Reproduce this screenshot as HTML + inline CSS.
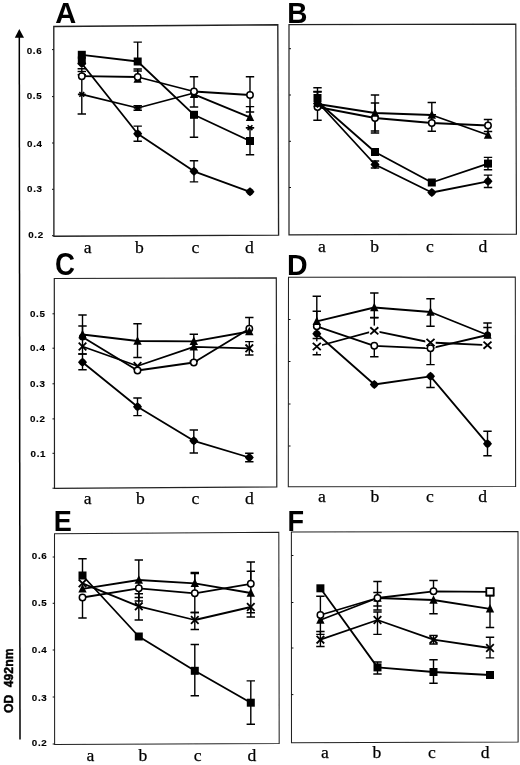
<!DOCTYPE html>
<html><head><meta charset="utf-8"><title>Figure</title>
<style>
html,body{margin:0;padding:0;background:#fff;}
body{width:520px;height:765px;overflow:hidden;font-family:"Liberation Sans",sans-serif;}
svg{display:block;}
.yl{font-family:"Liberation Sans",sans-serif;font-weight:bold;font-size:9.8px;letter-spacing:0.65px;fill:#000;stroke:#000;stroke-width:0.15px;}
.xl{font-family:"Liberation Serif",serif;font-size:17.6px;text-anchor:middle;fill:#000;stroke:#000;stroke-width:0.25px;}
.pl{font-family:"Liberation Sans",sans-serif;font-weight:bold;font-size:28.5px;fill:#000;}
.od{font-family:"Liberation Sans",sans-serif;font-weight:bold;font-size:13.6px;word-spacing:4.6px;fill:#000;text-anchor:middle;stroke:#000;stroke-width:0.5px;}
</style></head><body>
<svg width="520" height="765" viewBox="0 0 520 765">
<defs><filter id="bl" x="0" y="0" width="520" height="765" filterUnits="userSpaceOnUse"><feGaussianBlur stdDeviation="0.4"/></filter></defs>
<rect width="520" height="765" fill="#fff"/>
<g filter="url(#bl)">
<path d="M19.3 37L20 739.4" stroke="#000" stroke-width="1.5" fill="none"/>
<path d="M19.3 29L24 37.8L14.8 37.8Z" fill="#000"/>
<text class="od" transform="translate(12.6 680.8) rotate(-90) scale(0.9 1)">OD 492nm</text>
<path d="M53.8 26.5L277.8 24.8L278.6 235.2L53.9 236.2Z" fill="none" stroke="#222" stroke-width="1.35"/>
<path d="M52.0 49.6L53.8 49.6" stroke="#111" stroke-width="1"/>
<path d="M52.0 96.6L53.8 96.6" stroke="#111" stroke-width="1"/>
<path d="M52.0 143L53.8 143" stroke="#111" stroke-width="1"/>
<path d="M52.0 189.3L53.8 189.3" stroke="#111" stroke-width="1"/>
<path d="M52.0 235.7L53.8 235.7" stroke="#111" stroke-width="1"/>
<text x="26.7" y="53.8" class="yl">0.6</text>
<text x="26.7" y="98.8" class="yl">0.5</text>
<text x="27.1" y="146.6" class="yl">0.4</text>
<text x="27.1" y="192.4" class="yl">0.3</text>
<text x="28.2" y="238.2" class="yl">0.2</text>
<path d="M81.8 94.4L137.7 108.0L194.0 93.0" stroke="#000" stroke-width="1.8" fill="none" stroke-linejoin="round"/>
<path d="M194.0 94.3L250.0 117.3" stroke="#000" stroke-width="1.8" fill="none" stroke-linejoin="round"/>
<path d="M81.8 63.5L137.7 133.7L194.0 171.3L250.0 191.8" stroke="#000" stroke-width="1.8" fill="none" stroke-linejoin="round"/>
<path d="M81.8 76.2L137.7 77.0L194.0 91.5L250.0 95.0" stroke="#000" stroke-width="1.8" fill="none" stroke-linejoin="round"/>
<path d="M81.8 54.8L137.7 61.5L194.0 114.8L250.0 141.0" stroke="#000" stroke-width="1.8" fill="none" stroke-linejoin="round"/>
<path d="M81.8 74.8L81.8 114.0M77.6 74.8L86.0 74.8M77.6 114.0L86.0 114.0" stroke="#000" stroke-width="1.4" fill="none"/>
<path d="M137.7 105.8L137.7 110.2M133.5 105.8L141.9 105.8M133.5 110.2L141.9 110.2" stroke="#000" stroke-width="1.4" fill="none"/>
<path d="M137.7 69.0L137.7 79.0M133.5 69.0L141.9 69.0" stroke="#000" stroke-width="1.4" fill="none"/>
<path d="M250.0 106.6L250.0 117.3M245.8 106.6L254.2 106.6" stroke="#000" stroke-width="1.4" fill="none"/>
<path d="M137.7 126.1L137.7 141.3M133.5 126.1L141.9 126.1M133.5 141.3L141.9 141.3" stroke="#000" stroke-width="1.4" fill="none"/>
<path d="M194.0 160.7L194.0 181.9M189.8 160.7L198.2 160.7M189.8 181.9L198.2 181.9" stroke="#000" stroke-width="1.4" fill="none"/>
<path d="M81.8 68.8L81.8 76.2M77.6 68.8L86.0 68.8" stroke="#000" stroke-width="1.4" fill="none"/>
<path d="M137.7 71.0L137.7 77.0M133.5 71.0L141.9 71.0" stroke="#000" stroke-width="1.4" fill="none"/>
<path d="M194.0 76.8L194.0 107.0M189.8 76.8L198.2 76.8M189.8 107.0L198.2 107.0" stroke="#000" stroke-width="1.4" fill="none"/>
<path d="M250.0 76.8L250.0 112.0M245.8 76.8L254.2 76.8M245.8 112.0L254.2 112.0" stroke="#000" stroke-width="1.4" fill="none"/>
<path d="M137.7 42.1L137.7 61.5M133.5 42.1L141.9 42.1" stroke="#000" stroke-width="1.4" fill="none"/>
<path d="M194.0 114.8L194.0 137.3M189.8 137.3L198.2 137.3" stroke="#000" stroke-width="1.4" fill="none"/>
<path d="M250.0 127.7L250.0 154.7M245.8 127.7L254.2 127.7M245.8 154.7L254.2 154.7" stroke="#000" stroke-width="1.4" fill="none"/>
<path d="M79.4 92.0L84.2 96.8M79.4 96.8L84.2 92.0M77.9 94.4L85.7 94.4" stroke="#000" stroke-width="1.6" fill="none"/>
<path d="M135.3 105.6L140.1 110.4M135.3 110.4L140.1 105.6M133.8 108.0L141.6 108.0" stroke="#000" stroke-width="1.6" fill="none"/>
<path d="M191.6 90.6L196.4 95.4M191.6 95.4L196.4 90.6M190.1 93.0L197.9 93.0" stroke="#000" stroke-width="1.6" fill="none"/>
<path d="M247.6 125.3L252.4 130.1M247.6 130.1L252.4 125.3M246.1 127.7L253.9 127.7" stroke="#000" stroke-width="1.6" fill="none"/>
<rect x="77.8" y="56.5" width="8.0" height="8.0" fill="#000"/>
<path d="M137.7 74.3L141.9 82.7L133.5 82.7Z" fill="#000"/>
<path d="M194.0 89.6L198.2 98.0L189.8 98.0Z" fill="#000"/>
<path d="M250.0 112.6L254.2 121.0L245.8 121.0Z" fill="#000"/>
<path d="M81.8 59.0L84.3 61.0L86.3 63.5L84.3 66.0L81.8 68.0L79.3 66.0L77.3 63.5L79.3 61.0Z" fill="#000"/>
<path d="M137.7 129.2L140.2 131.2L142.2 133.7L140.2 136.2L137.7 138.2L135.2 136.2L133.2 133.7L135.2 131.2Z" fill="#000"/>
<path d="M194.0 166.8L196.5 168.8L198.5 171.3L196.5 173.8L194.0 175.8L191.5 173.8L189.5 171.3L191.5 168.8Z" fill="#000"/>
<path d="M250.0 187.3L252.5 189.3L254.5 191.8L252.5 194.3L250.0 196.3L247.5 194.3L245.5 191.8L247.5 189.3Z" fill="#000"/>
<circle cx="81.8" cy="76.2" r="3.2" fill="#fff" stroke="#000" stroke-width="1.5"/>
<circle cx="137.7" cy="77.0" r="3.2" fill="#fff" stroke="#000" stroke-width="1.5"/>
<circle cx="194.0" cy="91.5" r="3.2" fill="#fff" stroke="#000" stroke-width="1.5"/>
<circle cx="250.0" cy="95.0" r="3.2" fill="#fff" stroke="#000" stroke-width="1.5"/>
<rect x="77.8" y="50.8" width="8.0" height="8.0" fill="#000"/>
<rect x="133.7" y="57.5" width="8.0" height="8.0" fill="#000"/>
<rect x="190.0" y="110.8" width="8.0" height="8.0" fill="#000"/>
<rect x="246.0" y="137.0" width="8.0" height="8.0" fill="#000"/>
<path d="M77.6 71.5L86.0 71.5" stroke="#000" stroke-width="1.4" fill="none"/>
<text x="87.7" y="252.7" class="xl">a</text>
<text x="139.5" y="252.7" class="xl">b</text>
<text x="195.5" y="252.7" class="xl">c</text>
<text x="249.3" y="252.7" class="xl">d</text>
<text transform="translate(55.3 22.7) scale(1.02 1.05)" class="pl">A</text>
<path d="M289 24.6L515.8 24.2L516.4 234.2L289 234.8Z" fill="none" stroke="#222" stroke-width="1.2"/>
<path d="M289 48.7L291 48.7" stroke="#111" stroke-width="1"/>
<path d="M289 95L291 95" stroke="#111" stroke-width="1"/>
<path d="M289 141.3L291 141.3" stroke="#111" stroke-width="1"/>
<path d="M289 187.5L291 187.5" stroke="#111" stroke-width="1"/>
<path d="M317.5 107.0L375.0 118.0L431.8 123.0L488.0 125.5" stroke="#000" stroke-width="1.8" fill="none" stroke-linejoin="round"/>
<path d="M317.5 104.0L375.0 113.0L431.8 115.0L488.0 135.0" stroke="#000" stroke-width="1.8" fill="none" stroke-linejoin="round"/>
<path d="M317.5 102.0L375.0 164.5L431.8 192.5L488.0 181.3" stroke="#000" stroke-width="1.8" fill="none" stroke-linejoin="round"/>
<path d="M317.5 101.5L375.0 152.0L431.8 182.5L488.0 163.6" stroke="#000" stroke-width="1.8" fill="none" stroke-linejoin="round"/>
<path d="M317.5 92.0L317.5 120.2M313.3 92.0L321.7 92.0M313.3 120.2L321.7 120.2" stroke="#000" stroke-width="1.4" fill="none"/>
<path d="M375.0 103.0L375.0 133.0M370.8 103.0L379.2 103.0M370.8 133.0L379.2 133.0" stroke="#000" stroke-width="1.4" fill="none"/>
<path d="M431.8 114.7L431.8 131.3M427.6 114.7L436.0 114.7M427.6 131.3L436.0 131.3" stroke="#000" stroke-width="1.4" fill="none"/>
<path d="M488.0 119.5L488.0 131.5M483.8 119.5L492.2 119.5M483.8 131.5L492.2 131.5" stroke="#000" stroke-width="1.4" fill="none"/>
<path d="M317.5 87.7L317.5 103.0M313.3 87.7L321.7 87.7" stroke="#000" stroke-width="1.4" fill="none"/>
<path d="M375.0 95.0L375.0 131.0M370.8 95.0L379.2 95.0M370.8 131.0L379.2 131.0" stroke="#000" stroke-width="1.4" fill="none"/>
<path d="M431.8 102.5L431.8 115.0M427.6 102.5L436.0 102.5" stroke="#000" stroke-width="1.4" fill="none"/>
<path d="M375.0 161.0L375.0 168.0M370.8 161.0L379.2 161.0M370.8 168.0L379.2 168.0" stroke="#000" stroke-width="1.4" fill="none"/>
<path d="M488.0 175.1L488.0 187.5M483.8 175.1L492.2 175.1M483.8 187.5L492.2 187.5" stroke="#000" stroke-width="1.4" fill="none"/>
<path d="M317.5 91.5L317.5 98.0M313.3 91.5L321.7 91.5" stroke="#000" stroke-width="1.4" fill="none"/>
<path d="M488.0 157.4L488.0 169.8M483.8 157.4L492.2 157.4M483.8 169.8L492.2 169.8" stroke="#000" stroke-width="1.4" fill="none"/>
<circle cx="317.5" cy="107.0" r="3.2" fill="#fff" stroke="#000" stroke-width="1.5"/>
<circle cx="375.0" cy="118.0" r="3.2" fill="#fff" stroke="#000" stroke-width="1.5"/>
<circle cx="431.8" cy="123.0" r="3.2" fill="#fff" stroke="#000" stroke-width="1.5"/>
<circle cx="488.0" cy="125.5" r="3.2" fill="#fff" stroke="#000" stroke-width="1.5"/>
<path d="M317.5 98.3L321.7 106.7L313.3 106.7Z" fill="#000"/>
<path d="M375.0 108.3L379.2 116.7L370.8 116.7Z" fill="#000"/>
<path d="M431.8 110.3L436.0 118.7L427.6 118.7Z" fill="#000"/>
<path d="M488.0 130.3L492.2 138.7L483.8 138.7Z" fill="#000"/>
<path d="M317.5 99.1L320.0 101.1L322.0 103.6L320.0 106.1L317.5 108.1L315.0 106.1L313.0 103.6L315.0 101.1Z" fill="#000"/>
<path d="M375.0 160.0L377.5 162.0L379.5 164.5L377.5 167.0L375.0 169.0L372.5 167.0L370.5 164.5L372.5 162.0Z" fill="#000"/>
<path d="M431.8 188.0L434.3 190.0L436.3 192.5L434.3 195.0L431.8 197.0L429.3 195.0L427.3 192.5L429.3 190.0Z" fill="#000"/>
<path d="M488.0 176.8L490.5 178.8L492.5 181.3L490.5 183.8L488.0 185.8L485.5 183.8L483.5 181.3L485.5 178.8Z" fill="#000"/>
<rect x="313.5" y="94.0" width="8.0" height="8.0" fill="#000"/>
<rect x="371.0" y="148.0" width="8.0" height="8.0" fill="#000"/>
<rect x="427.8" y="178.5" width="8.0" height="8.0" fill="#000"/>
<rect x="484.0" y="159.6" width="8.0" height="8.0" fill="#000"/>
<text x="321.8" y="251.6" class="xl">a</text>
<text x="374.7" y="251.6" class="xl">b</text>
<text x="430" y="251.6" class="xl">c</text>
<text x="483" y="251.6" class="xl">d</text>
<text transform="translate(287.2 22.5) scale(0.98 1.05)" class="pl">B</text>
<path d="M54.3 278.5L276.3 277.9L276.8 486.9L54.5 488.3Z" fill="none" stroke="#222" stroke-width="1.2"/>
<path d="M52.5 313.8L54.3 313.8" stroke="#111" stroke-width="1"/>
<path d="M52.5 348.2L54.3 348.2" stroke="#111" stroke-width="1"/>
<path d="M52.5 383.8L54.3 383.8" stroke="#111" stroke-width="1"/>
<path d="M52.5 418.9L54.3 418.9" stroke="#111" stroke-width="1"/>
<path d="M52.5 453.3L54.3 453.3" stroke="#111" stroke-width="1"/>
<path d="M52.5 488.2L54.3 488.2" stroke="#111" stroke-width="1"/>
<text x="30.0" y="317.4" class="yl">0.5</text>
<text x="30.0" y="351.4" class="yl">0.4</text>
<text x="30.0" y="386.6" class="yl">0.3</text>
<text x="30.0" y="421.9" class="yl">0.2</text>
<text x="30.6" y="456.9" class="yl">0.1</text>
<path d="M82.5 346.5L137.5 366.0L193.8 346.8L249.3 348.3" stroke="#000" stroke-width="1.8" fill="none" stroke-linejoin="round"/>
<path d="M82.5 337.0L137.5 370.5L193.8 362.5L249.3 328.7" stroke="#000" stroke-width="1.8" fill="none" stroke-linejoin="round"/>
<path d="M82.5 334.5L137.5 341.0L193.8 341.3L249.3 331.5" stroke="#000" stroke-width="1.8" fill="none" stroke-linejoin="round"/>
<path d="M82.5 362.3L137.5 406.8L193.8 440.8L249.3 457.5" stroke="#000" stroke-width="1.8" fill="none" stroke-linejoin="round"/>
<path d="M249.3 341.6L249.3 355.0M245.1 341.6L253.5 341.6M245.1 355.0L253.5 355.0" stroke="#000" stroke-width="1.4" fill="none"/>
<path d="M82.5 326.0L82.5 354.0M78.3 326.0L86.7 326.0M78.3 354.0L86.7 354.0" stroke="#000" stroke-width="1.4" fill="none"/>
<path d="M82.5 315.0L82.5 334.5M78.3 315.0L86.7 315.0" stroke="#000" stroke-width="1.4" fill="none"/>
<path d="M137.5 323.8L137.5 357.5M133.3 323.8L141.7 323.8M133.3 357.5L141.7 357.5" stroke="#000" stroke-width="1.4" fill="none"/>
<path d="M193.8 334.3L193.8 361.3M189.6 334.3L198.0 334.3M189.6 361.3L198.0 361.3" stroke="#000" stroke-width="1.4" fill="none"/>
<path d="M249.3 317.5L249.3 331.5M245.1 317.5L253.5 317.5" stroke="#000" stroke-width="1.4" fill="none"/>
<path d="M82.5 354.0L82.5 369.8M78.3 354.0L86.7 354.0M78.3 369.8L86.7 369.8" stroke="#000" stroke-width="1.4" fill="none"/>
<path d="M137.5 398.0L137.5 415.6M133.3 398.0L141.7 398.0M133.3 415.6L141.7 415.6" stroke="#000" stroke-width="1.4" fill="none"/>
<path d="M193.8 430.0L193.8 453.0M189.6 430.0L198.0 430.0M189.6 453.0L198.0 453.0" stroke="#000" stroke-width="1.4" fill="none"/>
<path d="M249.3 453.3L249.3 461.7M245.1 453.3L253.5 453.3M245.1 461.7L253.5 461.7" stroke="#000" stroke-width="1.4" fill="none"/>
<path d="M78.7 342.7L86.3 350.3M78.7 350.3L86.3 342.7" stroke="#000" stroke-width="1.8" fill="none"/>
<path d="M133.7 362.2L141.3 369.8M133.7 369.8L141.3 362.2" stroke="#000" stroke-width="1.8" fill="none"/>
<path d="M193.8 342.1L198.0 350.5L189.6 350.5Z" fill="#000"/>
<path d="M245.5 344.5L253.1 352.1M245.5 352.1L253.1 344.5" stroke="#000" stroke-width="1.8" fill="none"/>
<circle cx="82.5" cy="337.0" r="3.6" fill="#000"/>
<circle cx="137.5" cy="370.5" r="3.2" fill="#fff" stroke="#000" stroke-width="1.5"/>
<circle cx="193.8" cy="362.5" r="3.2" fill="#fff" stroke="#000" stroke-width="1.5"/>
<circle cx="249.3" cy="328.7" r="3.2" fill="#fff" stroke="#000" stroke-width="1.5"/>
<path d="M82.5 329.8L86.7 338.2L78.3 338.2Z" fill="#000"/>
<path d="M137.5 336.3L141.7 344.7L133.3 344.7Z" fill="#000"/>
<path d="M193.8 336.6L198.0 345.0L189.6 345.0Z" fill="#000"/>
<path d="M249.3 326.8L253.5 335.2L245.1 335.2Z" fill="#000"/>
<path d="M82.5 357.8L85.0 359.8L87.0 362.3L85.0 364.8L82.5 366.8L80.0 364.8L78.0 362.3L80.0 359.8Z" fill="#000"/>
<path d="M137.5 402.3L140.0 404.3L142.0 406.8L140.0 409.3L137.5 411.3L135.0 409.3L133.0 406.8L135.0 404.3Z" fill="#000"/>
<path d="M193.8 436.3L196.3 438.3L198.3 440.8L196.3 443.3L193.8 445.3L191.3 443.3L189.3 440.8L191.3 438.3Z" fill="#000"/>
<path d="M249.3 453.0L251.8 455.0L253.8 457.5L251.8 460.0L249.3 462.0L246.8 460.0L244.8 457.5L246.8 455.0Z" fill="#000"/>
<text x="87.6" y="504.1" class="xl">a</text>
<text x="140.4" y="504.1" class="xl">b</text>
<text x="195.3" y="504.1" class="xl">c</text>
<text x="249.3" y="504.1" class="xl">d</text>
<text transform="translate(55.0 274.8) scale(0.97 1.07)" class="pl">C</text>
<path d="M288.5 277.3L515.3 277L515.6 486.5L288.3 486.7Z" fill="none" stroke="#222" stroke-width="1.05"/>
<path d="M288.5 319.5L290.5 319.5" stroke="#111" stroke-width="1"/>
<path d="M288.5 361.5L290.5 361.5" stroke="#111" stroke-width="1"/>
<path d="M288.5 404L290.5 404" stroke="#111" stroke-width="1"/>
<path d="M288.5 446L290.5 446" stroke="#111" stroke-width="1"/>
<path d="M316.8 346.5L374.3 330.8L430.5 342.5L487.5 345.2" stroke="#000" stroke-width="1.8" fill="none" stroke-linejoin="round"/>
<path d="M316.8 326.3L374.3 345.8L430.5 348.3L487.5 335.0" stroke="#000" stroke-width="1.8" fill="none" stroke-linejoin="round"/>
<path d="M316.8 321.3L374.3 307.5L430.5 312.0L487.5 335.0" stroke="#000" stroke-width="1.8" fill="none" stroke-linejoin="round"/>
<path d="M316.8 333.8L374.3 384.5L430.5 376.3L487.5 443.8" stroke="#000" stroke-width="1.8" fill="none" stroke-linejoin="round"/>
<path d="M316.8 338.5L316.8 354.8M312.6 338.5L321.0 338.5M312.6 354.8L321.0 354.8" stroke="#000" stroke-width="1.4" fill="none"/>
<path d="M374.3 317.8L374.3 330.8M370.1 317.8L378.5 317.8" stroke="#000" stroke-width="1.4" fill="none"/>
<path d="M316.8 311.3L316.8 326.3M312.6 311.3L321.0 311.3" stroke="#000" stroke-width="1.4" fill="none"/>
<path d="M374.3 345.8L374.3 356.8M370.1 356.8L378.5 356.8" stroke="#000" stroke-width="1.4" fill="none"/>
<path d="M430.5 348.3L430.5 364.6M426.3 364.6L434.7 364.6" stroke="#000" stroke-width="1.4" fill="none"/>
<path d="M487.5 327.5L487.5 335.0M483.3 327.5L491.7 327.5" stroke="#000" stroke-width="1.4" fill="none"/>
<path d="M316.8 296.3L316.8 321.3M312.6 296.3L321.0 296.3" stroke="#000" stroke-width="1.4" fill="none"/>
<path d="M374.3 293.0L374.3 317.5M370.1 293.0L378.5 293.0M370.1 317.5L378.5 317.5" stroke="#000" stroke-width="1.4" fill="none"/>
<path d="M430.5 298.8L430.5 326.3M426.3 298.8L434.7 298.8M426.3 326.3L434.7 326.3" stroke="#000" stroke-width="1.4" fill="none"/>
<path d="M487.5 323.0L487.5 335.0M483.3 323.0L491.7 323.0" stroke="#000" stroke-width="1.4" fill="none"/>
<path d="M430.5 376.3L430.5 387.5M426.3 387.5L434.7 387.5" stroke="#000" stroke-width="1.4" fill="none"/>
<path d="M487.5 431.3L487.5 455.8M483.3 431.3L491.7 431.3M483.3 455.8L491.7 455.8" stroke="#000" stroke-width="1.4" fill="none"/>
<rect x="311.6" y="341.3" width="10.4" height="10.4" fill="#fff"/><path d="M312.8 342.9L320.8 350.1M312.8 350.1L320.8 342.9" stroke="#000" stroke-width="1.9" fill="none"/>
<rect x="369.1" y="325.6" width="10.4" height="10.4" fill="#fff"/><path d="M370.3 327.2L378.3 334.4M370.3 334.4L378.3 327.2" stroke="#000" stroke-width="1.9" fill="none"/>
<rect x="425.3" y="337.3" width="10.4" height="10.4" fill="#fff"/><path d="M426.5 338.9L434.5 346.1M426.5 346.1L434.5 338.9" stroke="#000" stroke-width="1.9" fill="none"/>
<rect x="482.3" y="340.0" width="10.4" height="10.4" fill="#fff"/><path d="M483.5 341.6L491.5 348.8M483.5 348.8L491.5 341.6" stroke="#000" stroke-width="1.9" fill="none"/>
<circle cx="316.8" cy="326.3" r="3.2" fill="#fff" stroke="#000" stroke-width="1.5"/>
<circle cx="374.3" cy="345.8" r="3.2" fill="#fff" stroke="#000" stroke-width="1.5"/>
<circle cx="430.5" cy="348.3" r="3.2" fill="#fff" stroke="#000" stroke-width="1.5"/>
<circle cx="487.5" cy="335.0" r="3.6" fill="#000"/>
<path d="M316.8 316.6L321.0 325.0L312.6 325.0Z" fill="#000"/>
<path d="M374.3 302.8L378.5 311.2L370.1 311.2Z" fill="#000"/>
<path d="M430.5 307.3L434.7 315.7L426.3 315.7Z" fill="#000"/>
<path d="M487.5 330.3L491.7 338.7L483.3 338.7Z" fill="#000"/>
<path d="M316.8 329.3L319.3 331.3L321.3 333.8L319.3 336.3L316.8 338.3L314.3 336.3L312.3 333.8L314.3 331.3Z" fill="#000"/>
<path d="M374.3 380.0L376.8 382.0L378.8 384.5L376.8 387.0L374.3 389.0L371.8 387.0L369.8 384.5L371.8 382.0Z" fill="#000"/>
<path d="M430.5 371.8L433.0 373.8L435.0 376.3L433.0 378.8L430.5 380.8L428.0 378.8L426.0 376.3L428.0 373.8Z" fill="#000"/>
<path d="M487.5 439.3L490.0 441.3L492.0 443.8L490.0 446.3L487.5 448.3L485.0 446.3L483.0 443.8L485.0 441.3Z" fill="#000"/>
<text x="322" y="502" class="xl">a</text>
<text x="375" y="502" class="xl">b</text>
<text x="430" y="502" class="xl">c</text>
<text x="482.7" y="502" class="xl">d</text>
<text transform="translate(286.9 274.7) scale(1.0 1.05)" class="pl">D</text>
<path d="M54.5 533.8L278.8 532.3L279.2 743.5L54.6 744.4Z" fill="none" stroke="#222" stroke-width="1.05"/>
<path d="M52.7 557L54.5 557" stroke="#111" stroke-width="1"/>
<path d="M52.7 603.3L54.5 603.3" stroke="#111" stroke-width="1"/>
<path d="M52.7 650L54.5 650" stroke="#111" stroke-width="1"/>
<path d="M52.7 697L54.5 697" stroke="#111" stroke-width="1"/>
<path d="M52.7 744L54.5 744" stroke="#111" stroke-width="1"/>
<text x="31.8" y="559.3" class="yl">0.6</text>
<text x="31.8" y="606.3" class="yl">0.5</text>
<text x="31.8" y="652.8" class="yl">0.4</text>
<text x="31.8" y="701.0" class="yl">0.3</text>
<text x="31.8" y="745.8" class="yl">0.2</text>
<path d="M82.5 583.3L138.8 606.3L194.8 620.0L250.8 607.0" stroke="#000" stroke-width="1.8" fill="none" stroke-linejoin="round"/>
<path d="M82.5 588.8L138.8 580.0L194.8 583.3L250.8 593.0" stroke="#000" stroke-width="1.8" fill="none" stroke-linejoin="round"/>
<path d="M82.5 597.5L138.8 588.3L194.8 593.3L250.8 583.8" stroke="#000" stroke-width="1.8" fill="none" stroke-linejoin="round"/>
<path d="M82.5 575.5L138.8 636.5L194.8 670.8L250.8 702.7" stroke="#000" stroke-width="1.8" fill="none" stroke-linejoin="round"/>
<path d="M138.8 593.8L138.8 620.0M134.6 593.8L143.0 593.8M134.6 620.0L143.0 620.0" stroke="#000" stroke-width="1.4" fill="none"/>
<path d="M194.8 612.5L194.8 629.5M190.6 612.5L199.0 612.5M190.6 629.5L199.0 629.5" stroke="#000" stroke-width="1.4" fill="none"/>
<path d="M250.8 607.0L250.8 617.0M246.6 617.0L255.0 617.0" stroke="#000" stroke-width="1.4" fill="none"/>
<path d="M138.8 560.0L138.8 597.5M134.6 560.0L143.0 560.0M134.6 597.5L143.0 597.5" stroke="#000" stroke-width="1.4" fill="none"/>
<path d="M194.8 572.5L194.8 583.3M190.6 572.5L199.0 572.5" stroke="#000" stroke-width="1.4" fill="none"/>
<path d="M250.8 571.3L250.8 612.7M246.6 571.3L255.0 571.3M246.6 612.7L255.0 612.7" stroke="#000" stroke-width="1.4" fill="none"/>
<path d="M82.5 597.5L82.5 618.0M78.3 618.0L86.7 618.0" stroke="#000" stroke-width="1.4" fill="none"/>
<path d="M138.8 588.3L138.8 601.0M134.6 601.0L143.0 601.0" stroke="#000" stroke-width="1.4" fill="none"/>
<path d="M194.8 573.5L194.8 612.5M190.6 573.5L199.0 573.5M190.6 612.5L199.0 612.5" stroke="#000" stroke-width="1.4" fill="none"/>
<path d="M250.8 562.0L250.8 583.8M246.6 562.0L255.0 562.0" stroke="#000" stroke-width="1.4" fill="none"/>
<path d="M82.5 558.8L82.5 575.5M78.3 558.8L86.7 558.8" stroke="#000" stroke-width="1.4" fill="none"/>
<path d="M194.8 644.5L194.8 695.8M190.6 644.5L199.0 644.5M190.6 695.8L199.0 695.8" stroke="#000" stroke-width="1.4" fill="none"/>
<path d="M250.8 680.9L250.8 724.2M246.6 680.9L255.0 680.9M246.6 724.2L255.0 724.2" stroke="#000" stroke-width="1.4" fill="none"/>
<path d="M78.7 579.5L86.3 587.1M78.7 587.1L86.3 579.5" stroke="#000" stroke-width="1.8" fill="none"/>
<path d="M135.0 602.5L142.6 610.1M135.0 610.1L142.6 602.5" stroke="#000" stroke-width="1.8" fill="none"/>
<path d="M191.0 616.2L198.6 623.8M191.0 623.8L198.6 616.2" stroke="#000" stroke-width="1.8" fill="none"/>
<path d="M247.0 603.2L254.6 610.8M247.0 610.8L254.6 603.2" stroke="#000" stroke-width="1.8" fill="none"/>
<path d="M82.5 584.1L86.7 592.5L78.3 592.5Z" fill="#000"/>
<path d="M138.8 575.3L143.0 583.7L134.6 583.7Z" fill="#000"/>
<path d="M194.8 578.6L199.0 587.0L190.6 587.0Z" fill="#000"/>
<path d="M250.8 588.3L255.0 596.7L246.6 596.7Z" fill="#000"/>
<circle cx="82.5" cy="597.5" r="3.2" fill="#fff" stroke="#000" stroke-width="1.5"/>
<circle cx="138.8" cy="588.3" r="3.2" fill="#fff" stroke="#000" stroke-width="1.5"/>
<circle cx="194.8" cy="593.3" r="3.2" fill="#fff" stroke="#000" stroke-width="1.5"/>
<circle cx="250.8" cy="583.8" r="3.2" fill="#fff" stroke="#000" stroke-width="1.5"/>
<rect x="78.5" y="571.5" width="8.0" height="8.0" fill="#000"/>
<rect x="134.8" y="632.5" width="8.0" height="8.0" fill="#000"/>
<rect x="190.8" y="666.8" width="8.0" height="8.0" fill="#000"/>
<rect x="246.8" y="698.7" width="8.0" height="8.0" fill="#000"/>
<text x="90.4" y="761" class="xl">a</text>
<text x="143" y="761" class="xl">b</text>
<text x="197.6" y="761" class="xl">c</text>
<text x="252" y="761" class="xl">d</text>
<text transform="translate(53.8 530.8) scale(0.95 1.05)" class="pl">E</text>
<path d="M291.4 532L518 531.5L518.1 742.1L291.5 742.8Z" fill="none" stroke="#222" stroke-width="1.05"/>
<path d="M291.4 555.5L293.4 555.5" stroke="#111" stroke-width="1"/>
<path d="M291.4 602.5L293.4 602.5" stroke="#111" stroke-width="1"/>
<path d="M291.4 648L293.4 648" stroke="#111" stroke-width="1"/>
<path d="M291.4 694.6L293.4 694.6" stroke="#111" stroke-width="1"/>
<path d="M320.4 639.7L377.5 620.0L433.5 639.7L490.0 648.0" stroke="#000" stroke-width="1.8" fill="none" stroke-linejoin="round"/>
<path d="M320.4 620.0L377.5 598.0L433.5 600.0L490.0 608.8" stroke="#000" stroke-width="1.8" fill="none" stroke-linejoin="round"/>
<path d="M320.4 615.0L377.5 598.0L433.5 591.3L490.0 591.8" stroke="#000" stroke-width="1.8" fill="none" stroke-linejoin="round"/>
<path d="M320.4 588.3L377.5 667.4L433.5 672.0L490.0 675.0" stroke="#000" stroke-width="1.8" fill="none" stroke-linejoin="round"/>
<path d="M320.4 631.5L320.4 646.5M316.2 631.5L324.6 631.5M316.2 646.5L324.6 646.5" stroke="#000" stroke-width="1.4" fill="none"/>
<path d="M377.5 612.0L377.5 634.4M373.3 612.0L381.7 612.0M373.3 634.4L381.7 634.4" stroke="#000" stroke-width="1.4" fill="none"/>
<path d="M433.5 635.4L433.5 644.0M429.3 635.4L437.7 635.4M429.3 644.0L437.7 644.0" stroke="#000" stroke-width="1.4" fill="none"/>
<path d="M490.0 637.3L490.0 657.9M485.8 637.3L494.2 637.3M485.8 657.9L494.2 657.9" stroke="#000" stroke-width="1.4" fill="none"/>
<path d="M320.4 620.0L320.4 634.4M316.2 634.4L324.6 634.4" stroke="#000" stroke-width="1.4" fill="none"/>
<path d="M377.5 581.5L377.5 610.0M373.3 581.5L381.7 581.5M373.3 610.0L381.7 610.0" stroke="#000" stroke-width="1.4" fill="none"/>
<path d="M433.5 600.0L433.5 613.8M429.3 613.8L437.7 613.8" stroke="#000" stroke-width="1.4" fill="none"/>
<path d="M490.0 595.8L490.0 627.5M485.8 595.8L494.2 595.8M485.8 627.5L494.2 627.5" stroke="#000" stroke-width="1.4" fill="none"/>
<path d="M320.4 596.3L320.4 615.0M316.2 596.3L324.6 596.3" stroke="#000" stroke-width="1.4" fill="none"/>
<path d="M377.5 592.5L377.5 606.0M373.3 592.5L381.7 592.5M373.3 606.0L381.7 606.0" stroke="#000" stroke-width="1.4" fill="none"/>
<path d="M433.5 580.5L433.5 591.3M429.3 580.5L437.7 580.5" stroke="#000" stroke-width="1.4" fill="none"/>
<path d="M377.5 662.0L377.5 674.0M373.3 662.0L381.7 662.0M373.3 674.0L381.7 674.0" stroke="#000" stroke-width="1.4" fill="none"/>
<path d="M433.5 659.8L433.5 683.3M429.3 659.8L437.7 659.8M429.3 683.3L437.7 683.3" stroke="#000" stroke-width="1.4" fill="none"/>
<path d="M316.6 635.9L324.2 643.5M316.6 643.5L324.2 635.9" stroke="#000" stroke-width="1.8" fill="none"/>
<path d="M373.7 616.2L381.3 623.8M373.7 623.8L381.3 616.2" stroke="#000" stroke-width="1.8" fill="none"/>
<path d="M429.7 635.9L437.3 643.5M429.7 643.5L437.3 635.9" stroke="#000" stroke-width="1.8" fill="none"/>
<path d="M486.2 644.2L493.8 651.8M486.2 651.8L493.8 644.2" stroke="#000" stroke-width="1.8" fill="none"/>
<path d="M320.4 615.3L324.6 623.7L316.2 623.7Z" fill="#000"/>
<path d="M377.5 593.3L381.7 601.7L373.3 601.7Z" fill="#000"/>
<path d="M433.5 595.3L437.7 603.7L429.3 603.7Z" fill="#000"/>
<path d="M490.0 604.1L494.2 612.5L485.8 612.5Z" fill="#000"/>
<circle cx="320.4" cy="615.0" r="3.2" fill="#fff" stroke="#000" stroke-width="1.5"/>
<circle cx="377.5" cy="598.0" r="3.2" fill="#fff" stroke="#000" stroke-width="1.5"/>
<circle cx="433.5" cy="591.3" r="3.2" fill="#fff" stroke="#000" stroke-width="1.5"/>
<rect x="486.3" y="588.1" width="7.4" height="7.4" fill="#fff" stroke="#000" stroke-width="1.8"/>
<rect x="316.4" y="584.3" width="8.0" height="8.0" fill="#000"/>
<rect x="373.5" y="663.4" width="8.0" height="8.0" fill="#000"/>
<rect x="429.5" y="668.0" width="8.0" height="8.0" fill="#000"/>
<rect x="486.0" y="671.0" width="8.0" height="8.0" fill="#000"/>
<text x="324.8" y="758.4" class="xl">a</text>
<text x="377" y="758.4" class="xl">b</text>
<text x="431.9" y="758.4" class="xl">c</text>
<text x="485.2" y="758.4" class="xl">d</text>
<text transform="translate(287.5 530.8) scale(0.95 1.05)" class="pl">F</text>
</g>
</svg>
</body></html>
